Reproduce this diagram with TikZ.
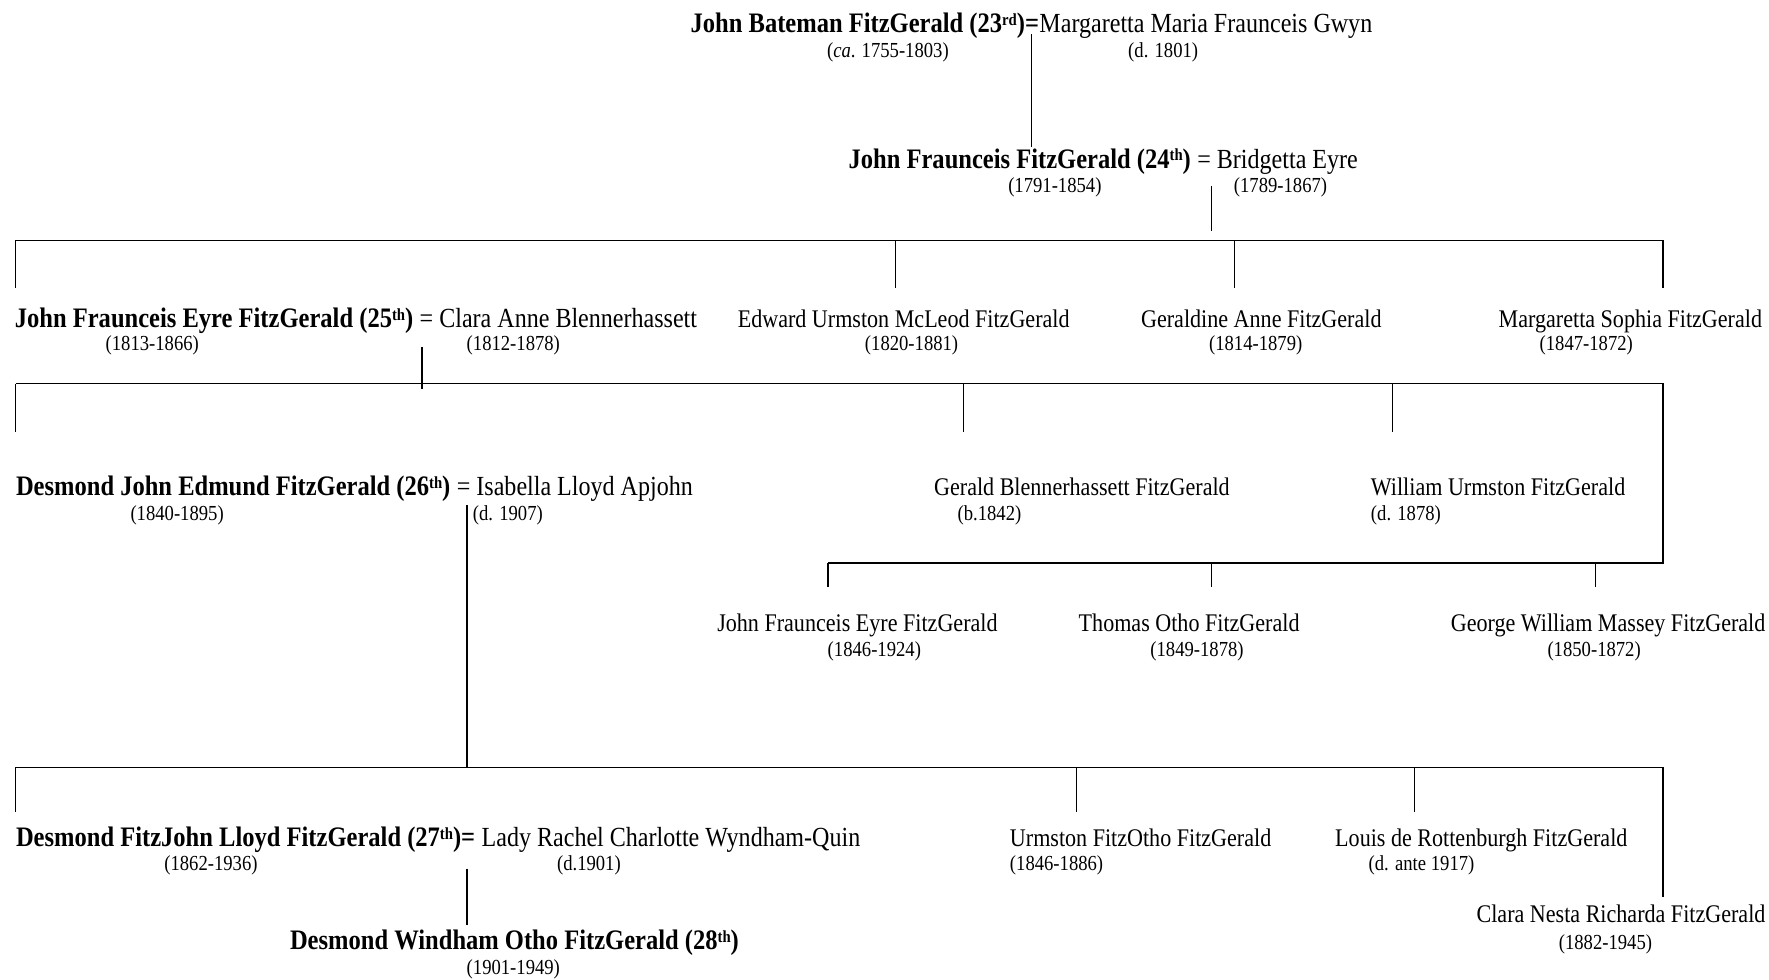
\documentclass[tikz,border=0pt]{standalone}
\usepackage{fontspec}
\setmainfont[FakeStretch=0.87]{Liberation Serif}
\usepackage{tikz}
\usetikzlibrary{positioning}
\newcommand{\namesize}{\fontsize{22.5}{25}\selectfont}
\newcommand{\spousesize}{\fontsize{24.5}{27}\selectfont}
\newcommand{\heirsize}{\fontsize{25}{27}\selectfont}
\newcommand{\datesize}{\fontsize{19}{21}\selectfont}
\newcommand{\ord}[1]{\raisebox{0.55ex}{\fontsize{15}{15}\selectfont #1}}
\begin{document}
\begin{tikzpicture}[x=1pt,y=-1pt,
                heir/.style={font=\bfseries\heirsize,inner sep=0pt,anchor=base west},
                spouse/.style={font=\spousesize,inner sep=0pt,anchor=base west},
                kin/.style={font=\namesize,inner sep=0pt,anchor=base},
                dates/.style={font=\datesize,inner sep=0pt,anchor=base},
                line/.style={draw=black,line width=1.2pt}
            ]
                \useasboundingbox (0,0) rectangle (1568,868);
                % 23rd and 24th
                \node[heir] (jbf) at (612,29) {John Bateman FitzGerald (23\ord{rd})=};
                \node[spouse] (mmg) at (jbf.base east) {Margaretta Maria Fraunceis Gwyn};
                \node[dates] (jbf-d) at (787,51) {(\textit{ca}. 1755-1803)};
                \node[dates] (mmg-d) at (1031,51) {(d. 1801)};
                \node[heir] (jff) at (752,149) {John Fraunceis FitzGerald (24\ord{th})};
                \node[spouse] (be) at (jff.base east) {\ = Bridgetta Eyre};
                \node[dates] (jff-d) at (935,171) {(1791-1854)};
                \node[dates] (be-d) at (1135,171) {(1789-1867)};
                % children of the 24th
                \node[heir] (jfef) at (13,290) {John Fraunceis Eyre FitzGerald (25\ord{th})};
                \node[spouse] (cab) at (jfef.base east) {\ = Clara Anne Blennerhassett};
                \node[dates] (jfef-d) at (135,311) {(1813-1866)};
                \node[dates] (cab-d) at (455,311) {(1812-1878)};
                \node[kin] (eumf) at (801,290) {Edward Urmston McLeod FitzGerald};
                \node[dates] (eumf-d) at (808,311) {(1820-1881)};
                \node[kin] (gaf) at (1118,290) {Geraldine Anne FitzGerald};
                \node[dates] (gaf-d) at (1113,311) {(1814-1879)};
                \node[kin,anchor=base east] (msf) at (1562,290) {Margaretta Sophia FitzGerald};
                \node[dates] (msf-d) at (1406,311) {(1847-1872)};
                % children of the 25th
                \node[heir] (djef) at (14,439) {Desmond John Edmund FitzGerald (26\ord{th})};
                \node[spouse] (ila) at (djef.base east) {\ = Isabella Lloyd Apjohn};
                \node[dates] (djef-d) at (157,461) {(1840-1895)};
                \node[dates,anchor=base west] (ila-d) at (419,461) {(d. 1907)};
                \node[kin] (gbf) at (959,439) {Gerald Blennerhassett FitzGerald};
                \node[dates] (gbf-d) at (877,461) {(b.1842)};
                \node[kin,anchor=base west] (wuf) at (1215,439) {William Urmston FitzGerald};
                \node[dates,anchor=base west] (wuf-d) at (1215,461) {(d. 1878)};
                \node[kin] (jfef2) at (760,560) {John Fraunceis Eyre FitzGerald};
                \node[dates] (jfef2-d) at (775,582) {(1846-1924)};
                \node[kin] (tof) at (1054,560) {Thomas Otho FitzGerald};
                \node[dates] (tof-d) at (1061,582) {(1849-1878)};
                \node[kin,anchor=base east] (gwmf) at (1565,560) {George William Massey FitzGerald};
                \node[dates] (gwmf-d) at (1413,582) {(1850-1872)};
                % children of the 26th
                \node[heir] (dflf) at (14,750) {Desmond FitzJohn Lloyd FitzGerald (27\ord{th})=};
                \node[spouse] (lrc) at (dflf.base east) {\ Lady Rachel Charlotte Wyndham-Quin};
                \node[dates] (dflf-d) at (187,772) {(1862-1936)};
                \node[dates] (lrc-d) at (522,772) {(d.1901)};
                \node[kin,anchor=base west] (uff) at (895,750) {Urmston FitzOtho FitzGerald};
                \node[dates,anchor=base west] (uff-d) at (895,772) {(1846-1886)};
                \node[kin] (lrf) at (1313,750) {Louis de Rottenburgh FitzGerald};
                \node[dates] (lrf-d) at (1260,772) {(d. ante 1917)};
                \node[kin,anchor=base east] (cnrf) at (1565,818) {Clara Nesta Richarda FitzGerald};
                \node[dates] (cnrf-d) at (1423,842) {(1882-1945)};
                % 28th
                \node[heir,anchor=base] (dwof) at (456,842) {Desmond Windham Otho FitzGerald (28\ord{th})};
                \node[dates] (dwof-d) at (455,864) {(1901-1949)};

                % lines of descent
                \coordinate (m23) at (914,30);
                \coordinate (m24) at (1074,165);
                \coordinate (m25) at (374,308);
                \coordinate (m26) at (414,448);
                \coordinate (m27) at (414,770);
                \coordinate (t24) at (914,130);
                \coordinate (t28) at (414,820);
                \coordinate (bar1) at (14,213);
                \coordinate (bar2) at (14,340);
                \coordinate (bar3) at (734,499);
                \coordinate (bar4) at (14,680);
                \draw[line] (m23) -- (t24);
                \draw[line] (m24) -- (1074,205);
                \draw[line] (bar1) -- (1474,213);
                \foreach \x in {14,794,1094,1474}
                    \draw[line] (\x,213) -- (\x,255);
                \draw[line] (m25) -- (374,345);
                \draw[line] (bar2) -- (1474,340) -- (1474,499) -- (bar3);
                \foreach \x in {14,854,1234}
                    \draw[line] (\x,340) -- (\x,383);
                \foreach \x in {734,1074,1414}
                    \draw[line] (\x,499) -- (\x,520);
                \draw[line] (m26) -- (414,680);
                \draw[line] (bar4) -- (1474,680) -- (1474,795);
                \foreach \x in {14,954,1254}
                    \draw[line] (\x,680) -- (\x,720);
                \draw[line] (m27) -- (t28);

            \end{tikzpicture}
\end{document}
